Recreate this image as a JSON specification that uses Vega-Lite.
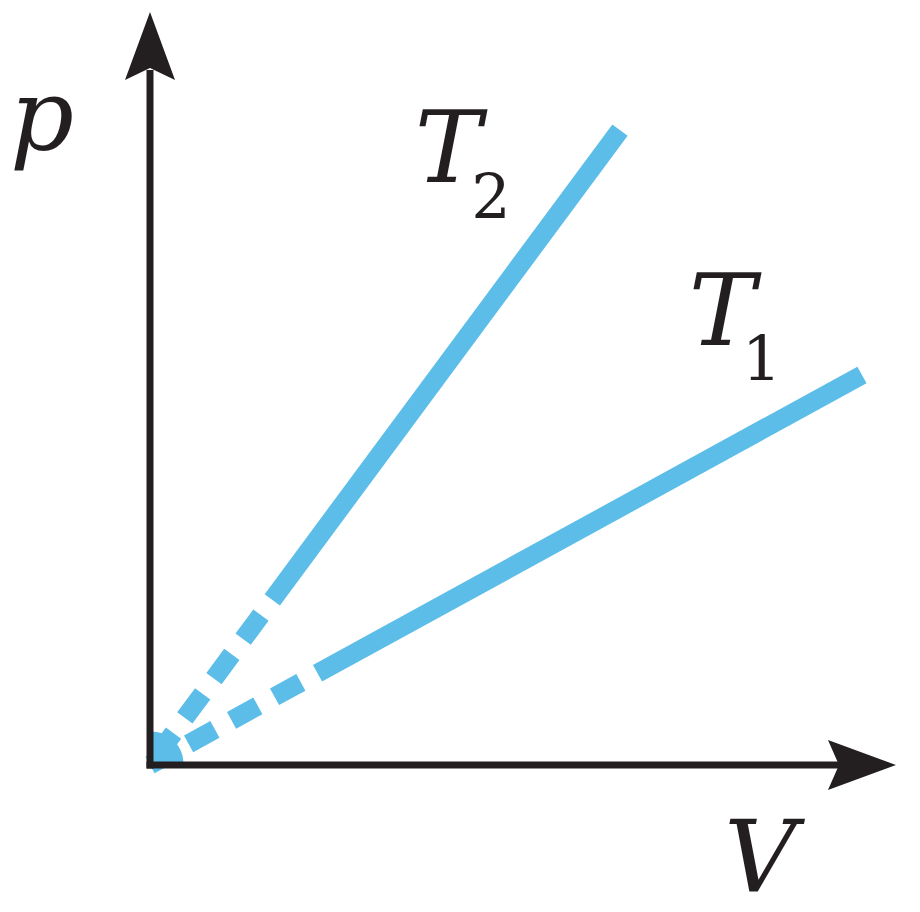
{
  "$schema": "https://vega.github.io/schema/vega-lite/v6.json",
  "width": 920,
  "height": 912,
  "autosize": {"type": "fit", "contains": "padding"},
  "padding": 0,
  "background": "white",
  "config": {"view": {"stroke": null}},
  "datasets": {
    "lines": [
      {"series": "T2", "part": "dashed", "ord": 1, "V": 1.747, "p": 2.36},
      {"series": "T2", "part": "dashed", "ord": 2, "V": 0, "p": 0},
      {"series": "T2", "part": "solid", "ord": 1, "V": 1.747, "p": 2.36},
      {"series": "T2", "part": "solid", "ord": 2, "V": 6.714, "p": 9.071},
      {"series": "T1", "part": "dashed", "ord": 1, "V": 2.393, "p": 1.311},
      {"series": "T1", "part": "dashed", "ord": 2, "V": 0, "p": 0},
      {"series": "T1", "part": "solid", "ord": 1, "V": 2.393, "p": 1.311},
      {"series": "T1", "part": "solid", "ord": 2, "V": 10.171, "p": 5.571}
    ],
    "axes": [
      {"axis": "p", "V": 0, "p": -0.05, "V2": 0, "p2": 9.929},
      {"axis": "V", "V": -0.05, "p": 0, "V2": 9.929, "p2": 0}
    ],
    "arrows": [
      {"axis": "p", "V": 0, "p": 10.271},
      {"axis": "V", "V": 10.171, "p": 0}
    ],
    "labels": [
      {"label": "p", "V": -1.543, "p": 8.786, "kind": "main"},
      {"label": "T", "V": 4.257, "p": 8.329, "kind": "main"},
      {"label": "2", "V": 4.87, "p": 7.814, "kind": "sub"},
      {"label": "T", "V": 8.171, "p": 6.0, "kind": "main"},
      {"label": "1", "V": 8.74, "p": 5.5, "kind": "sub"},
      {"label": "V", "V": 8.72, "p": -1.8, "kind": "main"}
    ],
    "origin": [{"V": 0.02, "p": 0.02}]
  },
  "encoding": {
    "x": {"field": "V", "type": "quantitative", "scale": {"domain": [-2.142857, 11], "nice": false, "zero": false}, "axis": null},
    "y": {"field": "p", "type": "quantitative", "scale": {"domain": [-2.1, 10.928571], "nice": false, "zero": false}, "axis": null}
  },
  "layer": [
    {
      "data": {"name": "lines"},
      "transform": [{"filter": "datum.part === 'dashed'"}],
      "mark": {"type": "line", "color": "#5bbde8", "strokeWidth": 19, "strokeCap": "butt", "strokeDash": [30, 19], "strokeDashOffset": 30},
      "encoding": {"detail": {"field": "series"}, "order": {"field": "ord"}}
    },
    {
      "data": {"name": "lines"},
      "transform": [{"filter": "datum.part === 'solid'"}],
      "mark": {"type": "line", "color": "#5bbde8", "strokeWidth": 19, "strokeCap": "butt"},
      "encoding": {"detail": {"field": "series"}, "order": {"field": "ord"}}
    },
    {
      "data": {"name": "origin"},
      "mark": {"type": "point", "filled": true, "color": "#5bbde8", "opacity": 1, "strokeWidth": 0, "shape": "M0,0 L0,-1 A1,1 0 0,1 1,0 Z", "size": 4096},
      "encoding": {}
    },
    {
      "data": {"name": "axes"},
      "mark": {"type": "rule", "color": "#231f20", "strokeWidth": 7, "strokeCap": "butt"},
      "encoding": {"x2": {"field": "V2"}, "y2": {"field": "p2"}}
    },
    {
      "data": {"name": "arrows"},
      "transform": [{"filter": "datum.axis === 'p'"}],
      "mark": {"type": "point", "filled": true, "color": "#231f20", "opacity": 1, "strokeWidth": 0, "shape": "M0,-3.4 L2.5,3.4 L0,2.2 L-2.5,3.4 Z", "size": 400},
      "encoding": {}
    },
    {
      "data": {"name": "arrows"},
      "transform": [{"filter": "datum.axis === 'V'"}],
      "mark": {"type": "point", "filled": true, "color": "#231f20", "opacity": 1, "strokeWidth": 0, "shape": "M3.4,0 L-3.4,2.5 L-2.3,0 L-3.4,-2.5 Z", "size": 400},
      "encoding": {}
    },
    {
      "data": {"name": "labels"},
      "transform": [{"filter": "datum.kind === 'main'"}],
      "mark": {"type": "text", "font": "DejaVu Serif", "fontStyle": "italic", "fontSize": 100, "color": "#231f20", "align": "center", "baseline": "alphabetic"},
      "encoding": {"text": {"field": "label"}}
    },
    {
      "data": {"name": "labels"},
      "transform": [{"filter": "datum.kind === 'sub'"}],
      "mark": {"type": "text", "font": "DejaVu Serif", "fontSize": 62, "color": "#231f20", "align": "center", "baseline": "alphabetic"},
      "encoding": {"text": {"field": "label"}}
    }
  ]
}
